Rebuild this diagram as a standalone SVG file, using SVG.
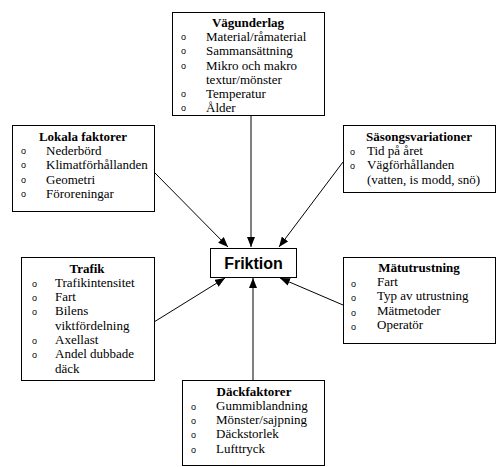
<svg xmlns="http://www.w3.org/2000/svg" width="500" height="467" viewBox="0 0 500 467">
<style>
.box{fill:#fff;stroke:#000;stroke-width:1}
.t{font-family:"Liberation Serif",serif;font-size:13px;fill:#000}
.h{font-family:"Liberation Serif",serif;font-size:13px;font-weight:bold;fill:#000;text-anchor:middle}
.b{font-family:"Liberation Sans",sans-serif;font-size:9px;fill:#000}
.c{stroke:#000;stroke-width:1;fill:none;marker-end:url(#ah)}
</style>
<defs>
<marker id="ah" viewBox="0 0 10 8" refX="10" refY="4" markerWidth="10" markerHeight="8" markerUnits="userSpaceOnUse" orient="auto">
<path d="M0,0 L10,4 L0,8 Z" fill="#000"/>
</marker>
</defs>
<rect width="500" height="467" fill="#fff"/>
<g id="connectors">
<line class="c" x1="251" y1="115" x2="251" y2="247"/>
<line class="c" x1="154" y1="172" x2="228" y2="247"/>
<line class="c" x1="343" y1="162" x2="279" y2="247"/>
<line class="c" x1="154" y1="322" x2="225" y2="278"/>
<line class="c" x1="343" y1="305" x2="280" y2="278"/>
<line class="c" x1="253" y1="380" x2="253" y2="278"/>
</g>
<g id="vagunderlag">
<rect class="box" x="172.5" y="12.5" width="152" height="103"/>
<text class="h" x="248" y="27">Vägunderlag</text>
<text class="b" x="181" y="40">o</text><text class="t" x="206" y="41">Material/råmaterial</text>
<text class="b" x="181" y="54">o</text><text class="t" x="206" y="55">Sammansättning</text>
<text class="b" x="181" y="69">o</text><text class="t" x="206" y="70">Mikro och makro</text>
<text class="t" x="206" y="84">textur/mönster</text>
<text class="b" x="181" y="97">o</text><text class="t" x="206" y="98">Temperatur</text>
<text class="b" x="181" y="111">o</text><text class="t" x="206" y="112">Ålder</text>
</g>
<g id="lokala">
<rect class="box" x="12.5" y="125.5" width="142" height="86"/>
<text class="h" x="83" y="141">Lokala faktorer</text>
<text class="b" x="21" y="154">o</text><text class="t" x="46" y="155">Nederbörd</text>
<text class="b" x="21" y="168">o</text><text class="t" x="46" y="169">Klimatförhållanden</text>
<text class="b" x="21" y="183">o</text><text class="t" x="46" y="184">Geometri</text>
<text class="b" x="21" y="197">o</text><text class="t" x="46" y="198">Föroreningar</text>
</g>
<g id="sasong">
<rect class="box" x="343.5" y="125.5" width="152" height="67"/>
<text class="h" x="419" y="141">Säsongsvariationer</text>
<text class="b" x="350" y="155">o</text><text class="t" x="367" y="155">Tid på året</text>
<text class="b" x="350" y="169">o</text><text class="t" x="367" y="169">Vägförhållanden</text>
<text class="t" x="367" y="184">(vatten, is modd, snö)</text>
</g>
<g id="friktion">
<rect class="box" x="210.5" y="248.5" width="86" height="29"/>
<text x="253.5" y="269" text-anchor="middle" font-family="'Liberation Sans',Arial,sans-serif" font-size="16" font-weight="bold">Friktion</text>
</g>
<g id="trafik">
<rect class="box" x="21.5" y="257.5" width="133" height="123"/>
<text class="h" x="87" y="273">Trafik</text>
<text class="b" x="32" y="287">o</text><text class="t" x="55" y="287">Trafikintensitet</text>
<text class="b" x="32" y="301">o</text><text class="t" x="55" y="301">Fart</text>
<text class="b" x="32" y="315">o</text><text class="t" x="55" y="315">Bilens</text>
<text class="t" x="55" y="330">viktfördelning</text>
<text class="b" x="32" y="344">o</text><text class="t" x="55" y="344">Axellast</text>
<text class="b" x="32" y="358">o</text><text class="t" x="55" y="358">Andel dubbade</text>
<text class="t" x="55" y="373">däck</text>
</g>
<g id="matutrustning">
<rect class="box" x="343.5" y="257.5" width="152" height="86"/>
<text class="h" x="419" y="272">Mätutrustning</text>
<text class="b" x="351" y="287">o</text><text class="t" x="377" y="286">Fart</text>
<text class="b" x="351" y="301">o</text><text class="t" x="377" y="300">Typ av utrustning</text>
<text class="b" x="351" y="316">o</text><text class="t" x="377" y="315">Mätmetoder</text>
<text class="b" x="351" y="330">o</text><text class="t" x="377" y="329">Operatör</text>
</g>
<g id="dackfaktorer">
<rect class="box" x="182.5" y="380.5" width="142" height="85"/>
<text class="h" x="254" y="396">Däckfaktorer</text>
<text class="b" x="191" y="410">o</text><text class="t" x="216" y="410">Gummiblandning</text>
<text class="b" x="191" y="424">o</text><text class="t" x="216" y="424">Mönster/sajpning</text>
<text class="b" x="191" y="438">o</text><text class="t" x="216" y="438">Däckstorlek</text>
<text class="b" x="191" y="453">o</text><text class="t" x="216" y="453">Lufttryck</text>
</g>
</svg>
